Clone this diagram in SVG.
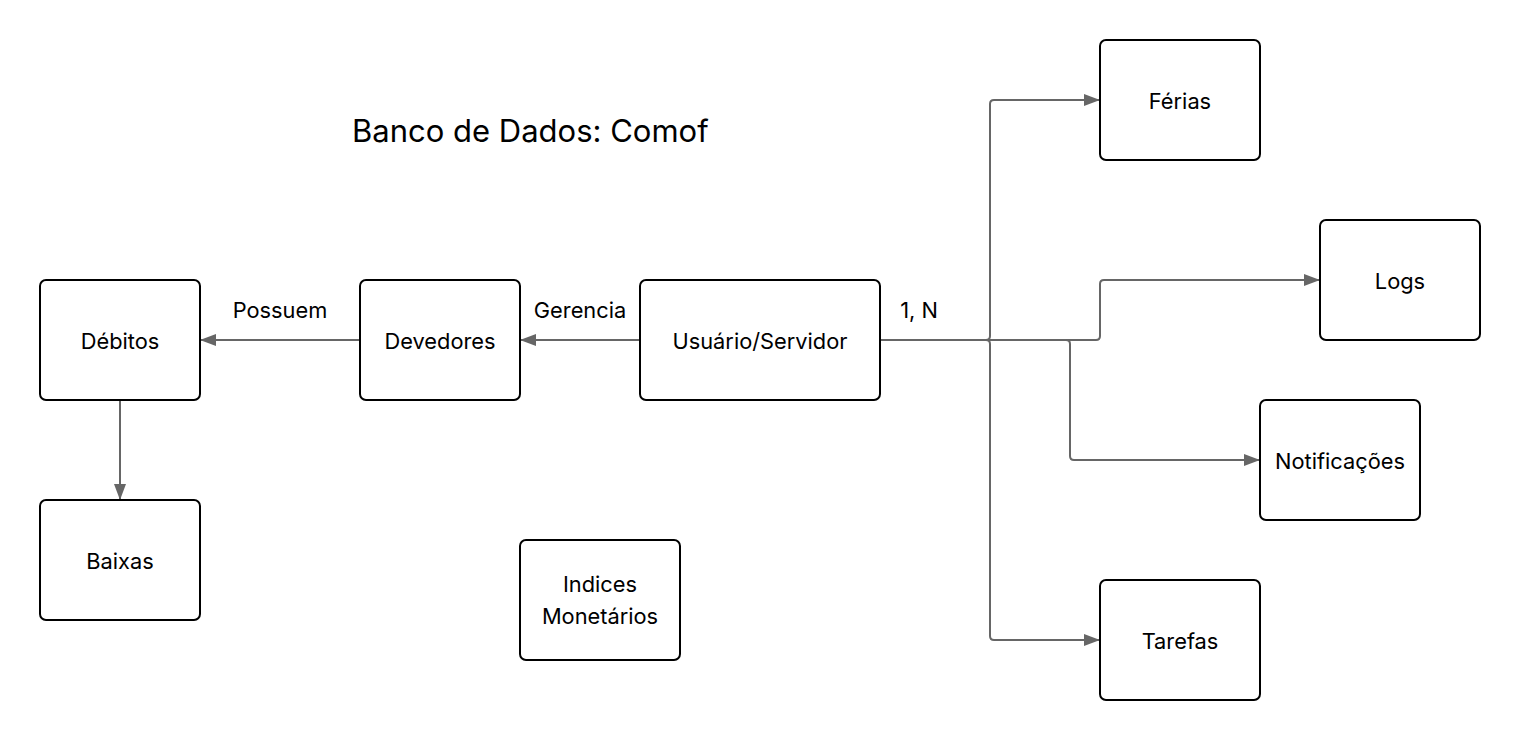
<svg xmlns="http://www.w3.org/2000/svg" width="1520" height="740" viewBox="0 0 1520 740">
<style>
.n rect{fill:#fff;stroke:#000;stroke-width:2}
text{font-family:Inter,"Liberation Sans",sans-serif;fill:#000}
.t{font-size:21.8px;text-anchor:middle;dominant-baseline:central}
.c path{fill:none;stroke:#666;stroke-width:2;stroke-linejoin:round}
</style>
<defs>
<marker id="a" markerWidth="16" markerHeight="12" refX="16" refY="6" orient="auto" markerUnits="userSpaceOnUse">
<path d="M0,0 L16,6 L0,12 z" fill="#666"/>
</marker>
</defs>
<rect width="1520" height="740" fill="#fff"/>
<text x="352" y="130" font-size="31" dominant-baseline="central">Banco de Dados: Comof</text>
<g class="c">
<path d="M640,340 H520" marker-end="url(#a)"/>
<path d="M360,340 H200" marker-end="url(#a)"/>
<path d="M120,400 V500" marker-end="url(#a)"/>
<path d="M880,340 H986 Q990,340 990,336 V104 Q990,100 994,100 H1100" marker-end="url(#a)"/>
<path d="M880,340 H1096 Q1100,340 1100,336 V284 Q1100,280 1104,280 H1320" marker-end="url(#a)"/>
<path d="M880,340 H1066 Q1070,340 1070,344 V456 Q1070,460 1074,460 H1260" marker-end="url(#a)"/>
<path d="M880,340 H986 Q990,340 990,344 V636 Q990,640 994,640 H1100" marker-end="url(#a)"/>
</g>
<text class="t" x="580" y="310">Gerencia</text>
<text class="t" x="280" y="310">Possuem</text>
<text class="t" x="919" y="310">1, N</text>
<g id="debitos" class="n"><rect x="40" y="280" width="160" height="120" rx="6"/><text class="t" x="120" y="341">Débitos</text></g>
<g id="devedores" class="n"><rect x="360" y="280" width="160" height="120" rx="6"/><text class="t" x="440" y="341">Devedores</text></g>
<g id="usuario" class="n"><rect x="640" y="280" width="240" height="120" rx="6"/><text class="t" x="760" y="341">Usuário/Servidor</text></g>
<g id="baixas" class="n"><rect x="40" y="500" width="160" height="120" rx="6"/><text class="t" x="120" y="561">Baixas</text></g>
<g id="indices" class="n"><rect x="520" y="540" width="160" height="120" rx="6"/><text class="t" x="600" y="584">Indices</text><text class="t" x="600" y="616">Monetários</text></g>
<g id="ferias" class="n"><rect x="1100" y="40" width="160" height="120" rx="6"/><text class="t" x="1180" y="101">Férias</text></g>
<g id="logs" class="n"><rect x="1320" y="220" width="160" height="120" rx="6"/><text class="t" x="1400" y="281">Logs</text></g>
<g id="notificacoes" class="n"><rect x="1260" y="400" width="160" height="120" rx="6"/><text class="t" x="1340" y="461">Notificações</text></g>
<g id="tarefas" class="n"><rect x="1100" y="580" width="160" height="120" rx="6"/><text class="t" x="1180" y="641">Tarefas</text></g>
</svg>
